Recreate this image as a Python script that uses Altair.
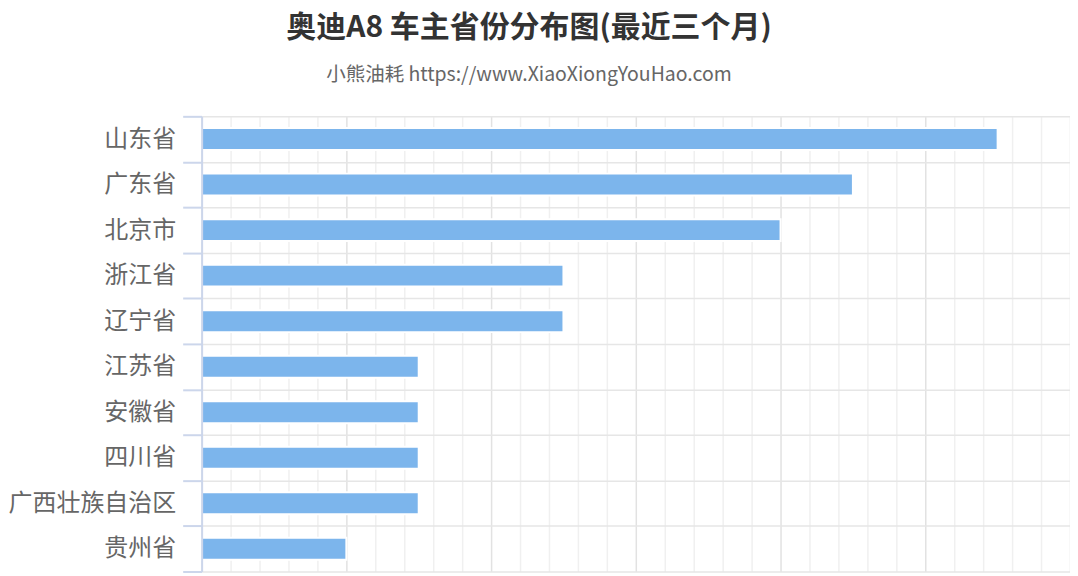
import altair as alt
import pandas as pd

provinces = ["山东省", "广东省", "北京市", "浙江省", "辽宁省", "江苏省", "安徽省", "四川省", "广西壮族自治区", "贵州省"]
owners = [11, 9, 8, 5, 5, 3, 3, 3, 3, 2]

title_text = "奥迪A8 车主省份分布图(最近三个月)"
subtitle_text = "小熊油耗 https://www.XiaoXiongYouHao.com"

df = pd.DataFrame({"province": provinces, "owners": owners})

FONT = "Noto Sans CJK SC"
grid_values = [round(k * 0.4, 1) for k in range(31)]

chart = alt.Chart(df).mark_bar(
    color="#7cb5ec", size=22, stroke="white", strokeWidth=2
).encode(
    x=alt.X(
        "owners:Q",
        scale=alt.Scale(domain=[0, 12], nice=False, zero=True),
        axis=alt.Axis(
            title=None, labels=False, ticks=False, domain=False,
            values=grid_values,
            gridColor={"condition": {"test": "abs(datum.value/2 - round(datum.value/2)) < 0.01", "value": "#e2e2e2"}, "value": "#f0f0f0"},
            gridWidth=1.5,
        ),
    ),
    y=alt.Y(
        "province:N",
        sort=provinces,
        scale=alt.Scale(paddingInner=0, paddingOuter=0),
        axis=alt.Axis(
            title=None, tickBand="extent", grid=True, gridColor="#e6e6e6", gridWidth=1.5,
            tickColor="#ccd6eb", tickSize=19, tickWidth=2,
            domainColor="#ccd6eb", domainWidth=2,
            labelFont=FONT, labelFontSize=24, labelColor="#666666", labelPadding=7,
            zindex=1,
        ),
    ),
).properties(
    width=870,
    height=456,
    padding={"left": 0, "right": 0, "top": 4, "bottom": 5},
    title=alt.TitleParams(
        text=title_text,
        subtitle=subtitle_text,
        font=FONT, fontSize=30, fontWeight="bold", color="#333333",
        subtitleFont=FONT, subtitleFontSize=19.5, subtitleColor="#666666",
        subtitlePadding=23, offset=20, anchor="middle", frame="bounds", dx=-10,
    ),
).configure_view(stroke=None)

chart.save("out.html", embed_options={"renderer": "svg", "actions": False})
